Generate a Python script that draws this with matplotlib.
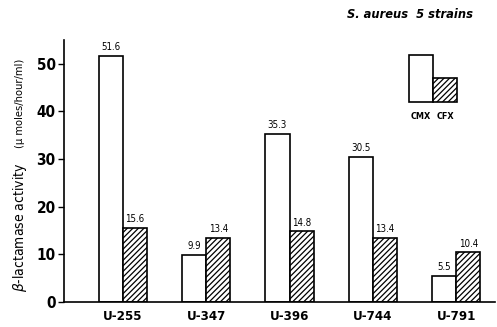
import matplotlib
matplotlib.use('Agg')
import matplotlib.pyplot as plt
from matplotlib.patches import Rectangle
from matplotlib import font_manager
from matplotlib.font_manager import FontProperties
import numpy as np

# Активность бета-лактамазы для 5 штаммов S. aureus
strains = ['U-255', 'U-347', 'U-396', 'U-744', 'U-791']
cmx = [51.6, 9.9, 35.3, 30.5, 5.5]
cfx = [15.6, 13.4, 14.8, 13.4, 10.4]
y_ticks = [0, 10, 20, 30, 40, 50]


# Узкий шрифт DejaVu Sans Condensed (по имени файла)
def condensed(size, bold=False):
    fname = 'DejaVuSansCondensed-Bold.ttf' if bold else 'DejaVuSansCondensed.ttf'
    for f in font_manager.fontManager.ttflist:
        if f.fname.endswith('/' + fname):
            return FontProperties(fname=f.fname, size=size)
    return FontProperties(family='DejaVu Sans', size=size, weight='bold' if bold else 'normal')


plt.rcParams['hatch.linewidth'] = 0.9

fig = plt.figure(figsize=(4.97, 3.27), dpi=100)
ax = fig.add_axes([0.1288, 0.0765, 0.8672, 0.8012])

x = np.arange(len(strains))
w = 0.29
bars1 = ax.bar(x - w / 2, cmx, w, color='white', edgecolor='black', linewidth=1.2)
bars2 = ax.bar(x + w / 2, cfx, w, color='white', edgecolor='black', linewidth=1.2,
               hatch='//////')

# Подписи значений над столбцами
for b, v in zip(list(bars1) + list(bars2), cmx + cfx):
    ax.text(b.get_x() + b.get_width() / 2, v + 0.8, f'{v}', ha='center', va='bottom',
            fontproperties=condensed(7))

ax.set_xlim(-0.708, 4.466)
ax.set_ylim(0, 55)
ax.set_yticks(y_ticks)
ax.set_yticklabels([str(t) for t in y_ticks], fontproperties=condensed(11, bold=True))
ax.set_xticks(x)
ax.set_xticklabels(strains, fontproperties=condensed(9.5, bold=True))
ax.tick_params(axis='x', length=0, pad=6)
ax.tick_params(axis='y', length=4, width=1, pad=2)
ax.spines['top'].set_visible(False)
ax.spines['right'].set_visible(False)
ax.spines['left'].set_linewidth(1.2)
ax.spines['bottom'].set_linewidth(1.2)

# Легенда в виде маленьких столбиков
ax.add_patch(Rectangle((3.433, 42.0), w, 9.9, facecolor='white', edgecolor='black', linewidth=1.2))
ax.add_patch(Rectangle((3.433 + w, 42.0), w, 5.05, facecolor='white', edgecolor='black',
                       linewidth=1.2, hatch='//////'))
ax.text(3.433 + w / 2, 39.8, 'CMX', ha='center', va='top', fontproperties=condensed(6.5, bold=True))
ax.text(3.433 + 1.5 * w, 39.8, 'CFX', ha='center', va='top', fontproperties=condensed(6.5, bold=True))

fig.text(0.952, 0.955, 'S. aureus  5 strains', ha='right', va='center', fontsize=8.3,
         fontweight='bold', fontstyle='italic')

# Подпись оси Y из двух частей
fig.text(0.040, 0.306, r'$\beta$-lactamase activity', rotation=90, ha='center', va='center',
         fontproperties=condensed(10))
fig.text(0.040, 0.685, '(μ moles/hour/ml)', rotation=90, ha='center', va='center',
         fontproperties=condensed(8))

fig.savefig('out.png', dpi=100)
